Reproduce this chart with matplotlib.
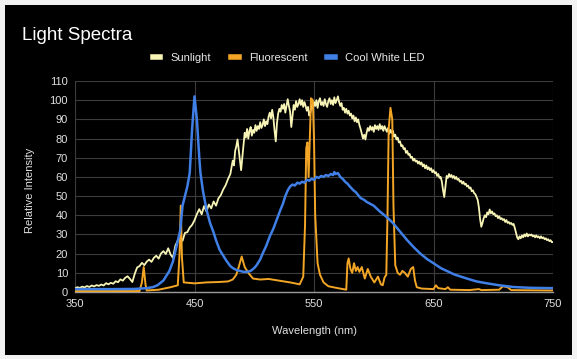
import matplotlib
matplotlib.use("Agg")
import matplotlib.pyplot as plt
from matplotlib.patches import Rectangle

plt.rcParams['font.family'] = ['Liberation Sans', 'DejaVu Sans']

# ---- data ----
# sunlight: every 2 nm up to 478, then every 1 nm
sun_wl = list(range(350, 480, 2)) + list(range(480, 751))
sunlight = [
    2.0, 2.5, 2.1, 2.8, 2.4, 3.1, 2.6, 3.4, 2.9, 3.6,
    3.2, 3.9, 3.4, 4.6, 4.0, 4.8, 4.3, 5.6, 5.1, 6.6,
    5.9, 7.4, 8.2, 6.8, 5.2, 9.5, 12.8, 13.5, 15.2, 14.0,
    15.8, 16.9, 15.7, 17.8, 18.9, 17.4, 20.1, 21.3, 19.8, 22.8,
    19.5, 17.8, 24.2, 26.8, 28.4, 26.7, 30.8, 31.2, 33.6, 35.0,
    37.4, 40.6, 43.2, 40.5, 44.8, 42.0, 45.6, 43.6, 47.2, 45.0,
    48.8, 50.5, 53.4, 55.6, 58.8,
    61.5, 65.0, 68.5, 66.0, 73.5, 76.0, 79.5, 74.0, 69.0, 63.5,   # 480
    70.0, 77.0, 83.0, 80.5, 85.0, 80.0, 84.0, 86.0, 81.5, 84.5,   # 490
    83.0, 87.0, 84.0, 86.5, 85.0, 88.5, 85.5, 87.0, 90.0, 86.5,   # 500
    89.0, 87.5, 91.5, 93.5, 90.5, 95.0, 91.0, 84.0, 78.5, 88.0,   # 510
    93.0, 95.5, 94.0, 97.5, 95.5, 98.0, 93.5, 97.0, 100.5, 97.0,  # 520
    94.0, 86.0, 92.0, 97.5, 95.0, 99.5, 96.5, 98.0, 100.5, 97.5,  # 530
    100.0, 96.5, 99.0, 97.0, 94.5, 96.5, 92.0, 93.5, 97.5, 95.5,  # 540
    99.0, 97.0, 100.0, 96.0, 99.5, 101.0, 97.5, 99.0, 97.0, 100.5,  # 550
    98.0, 96.5, 99.5, 101.0, 98.0, 100.0, 97.5, 101.5, 98.5, 100.0,  # 560
    102.0, 99.0, 97.0, 98.5, 95.0, 96.0, 93.5, 95.5, 93.0, 94.5,  # 570
    92.0, 93.0, 90.5, 92.0, 89.0, 91.0, 88.5, 90.0, 87.0, 85.0,   # 580
    82.5, 80.0, 82.0, 79.5, 83.0, 85.5, 84.0, 86.5, 84.5, 86.0,   # 590
    83.5, 87.0, 85.0, 86.5, 84.5, 87.5, 85.0, 86.5, 84.0, 86.5,   # 600
    85.0, 83.5, 85.5, 82.5, 84.5, 83.0, 84.0, 81.0, 82.0, 79.5,   # 610
    80.5, 78.0, 78.5, 76.0, 76.5, 74.5, 75.0, 72.5, 73.5, 71.5,   # 620
    72.0, 70.0, 70.5, 68.5, 69.5, 68.0, 68.5, 67.0, 68.0, 66.5,   # 630
    67.5, 65.5, 66.5, 64.5, 66.0, 64.0, 65.0, 63.5, 64.5, 62.5,   # 640
    63.5, 62.0, 62.5, 60.5, 61.5, 59.5, 60.0, 57.5, 53.0, 49.5,   # 650
    55.0, 60.5, 59.5, 61.5, 60.0, 61.0, 59.5, 60.5, 59.0, 60.0,   # 660
    58.5, 59.0, 57.5, 58.0, 56.5, 57.5, 56.0, 56.5, 55.0, 55.5,   # 670
    54.0, 54.5, 52.5, 53.0, 51.5, 51.0, 49.5, 48.0, 44.0, 38.0,   # 680
    34.0, 36.0, 38.5, 40.0, 39.0, 41.5, 40.5, 43.0, 41.0, 42.0,   # 690
    40.5, 41.0, 39.5, 40.0, 38.5, 39.5, 38.0, 38.5, 37.5, 38.0,   # 700
    36.5, 37.5, 36.0, 36.5, 35.5, 36.0, 35.0, 35.5, 33.5, 31.0,   # 710
    28.5, 27.5, 29.0, 28.0, 29.5, 28.5, 30.0, 29.0, 30.5, 29.0,   # 720
    30.0, 29.5, 30.0, 29.0, 29.5, 28.5, 29.5, 28.5, 29.0, 28.0,   # 730
    29.0, 28.0, 28.5, 27.5, 28.0, 27.0, 27.5, 26.5, 27.0, 26.0,   # 740
    26.0]

fluo_wl = [350, 404, 406, 407.5, 409, 410, 420, 430, 436, 437.5, 438.5, 439.5, 441, 450, 460,
           470, 478, 482, 485, 487, 489.5, 492, 495, 499, 505, 512, 520, 530, 538, 541, 542.5,
           543.5, 544.5, 545.5, 546.5, 547.5, 549, 550, 551, 553, 555, 558, 562, 570, 577, 578,
           579, 580.5, 582, 583.5, 585, 586.5, 588, 590, 592.5, 595, 597.5, 600.5, 603.5, 606,
           607.5, 609, 610.5, 611.5, 612.5, 614, 615.5, 616.5, 618, 620, 622, 624, 626, 628.5,
           631, 633, 634.5, 636, 640, 650, 652, 654, 660, 662, 664, 680, 688, 690, 705, 708,
           712, 715, 750]
fluorescent = [0.5, 0.5, 5, 13, 4, 0.8, 1.2, 2.5, 3.5, 20, 45, 18, 5, 4.5, 5,
               5.2, 5.5, 6.5, 9, 13, 18.5, 13, 10, 7, 6.5, 6.8, 6, 5, 4, 8, 35,
               75, 78, 60, 80, 101, 100, 80, 40, 15, 9, 5, 3, 2, 1.2, 15,
               17.5, 12, 10, 15, 11, 13, 10.5, 13, 7, 12, 8, 5, 8, 4,
               3.5, 7.5, 9, 40, 85, 96, 90, 45, 14, 10, 9, 11, 10, 8,
               12, 13, 6, 2.5, 1.8, 1.5, 3.5, 2, 1.5, 2.5, 1.2, 1, 1.5, 1, 1.2, 3,
               2.5, 1, 0.8]

led_wl = [350, 380, 400, 410, 415, 419, 424, 427, 429, 432, 435, 438, 440, 442, 444, 446,
          448, 450, 452, 454, 455, 457, 460, 463, 466, 468, 471, 474, 477, 480, 482, 485,
          488, 491, 494, 497, 500, 502, 505, 507, 510, 513, 516, 519, 522, 524, 526, 528,
          530, 532, 534, 536, 538, 540, 542, 544, 546, 548, 550, 552, 554, 556, 558, 560,
          562, 564, 566, 567, 568, 570, 572, 574, 576, 578, 580, 583, 585, 587, 589, 592,
          594, 597, 600, 605, 611, 616, 622, 628, 634, 639, 645, 650, 656, 661, 668, 678,
          686, 695, 705, 717, 730, 750]
led = [1.5, 1.5, 1.6, 2.0, 2.5, 3.5, 6, 9, 11, 16, 24, 32, 45, 50, 55, 62,
       85, 102, 90, 70, 62, 53, 43, 36, 31, 27, 22, 19, 16, 13.5, 12.5, 11.5,
       11, 10.5, 10.5, 11, 12.5, 14, 17, 20, 24, 29, 33, 38, 43, 46, 50, 53,
       55, 56, 55.5, 57, 56.5, 57.5, 57, 58.5, 58, 59, 58.5, 60, 59.5, 60.5, 60, 61,
       60.5, 61.5, 61, 62.5, 61.5, 62, 60, 59, 57.5, 56.5, 55, 53, 52, 50.5, 49, 48,
       47, 46, 45, 42, 39, 36, 31.5, 27, 23, 20, 17, 15, 12.5, 11, 9, 7,
       5.5, 4.5, 3.5, 2.6, 2.2, 2.0]

x_ticks = [350, 450, 550, 650, 750]
y_ticks = list(range(0, 111, 10))

# ---- figure ----
fig = plt.figure(figsize=(5.77, 3.59), dpi=100, facecolor='#f2f2f2')
fig.patches.append(Rectangle((5 / 577, 4 / 359), 567 / 577, 350 / 359,
                             transform=fig.transFigure, facecolor='black',
                             edgecolor='none', zorder=-10))

ax = fig.add_axes([75 / 577, (359 - 292) / 359, 478 / 577, 211 / 359])
ax.set_zorder(2)
ax.set_facecolor('black')

ax.plot(sun_wl, sunlight, color='#f7f4b6', lw=1.3, label='Sunlight', zorder=3)
ax.plot(fluo_wl, fluorescent, color='#f3a626', lw=1.4, label='Fluorescent', zorder=4)
ax.plot(led_wl, led, color='#3f7fe6', lw=1.8, label='Cool White LED', zorder=5)

ax.set_xlim(350, 750)
ax.set_ylim(0, 110)
ax.set_xticks(x_ticks)
ax.set_yticks(y_ticks)
ax.grid(True, color='#3c3c3c', lw=0.8)
ax.set_axisbelow(True)
for s in ['top', 'right', 'left']:
    ax.spines[s].set_visible(False)
ax.spines['bottom'].set_color('#9a9a9a')
ax.spines['bottom'].set_linewidth(1.0)
ax.tick_params(length=0, colors='#e0e0e0', labelsize=8, pad=5)

fig.text(30 / 577, 1 - 190 / 359, 'Relative Intensity', rotation=90, color='#e0e0e0',
         fontsize=8, ha='center', va='center')
fig.text(314 / 577, 1 - 331 / 359, 'Wavelength (nm)', color='#e0e0e0',
         fontsize=8, ha='center', va='center')
fig.text(22 / 577, 1 - 35 / 359, 'Light Spectra', color='white', fontsize=13.5,
         ha='left', va='center')

leg = fig.legend(loc='center', bbox_to_anchor=(0.5, 1 - 58 / 359), ncol=3,
                 frameon=False, fontsize=8, handlelength=0.7, handletextpad=0.9,
                 columnspacing=1.8, labelcolor='#e8e8e8')
for h in leg.legend_handles:
    h.set_linewidth(4)

fig.savefig('out.png', dpi=100, facecolor=fig.get_facecolor())
